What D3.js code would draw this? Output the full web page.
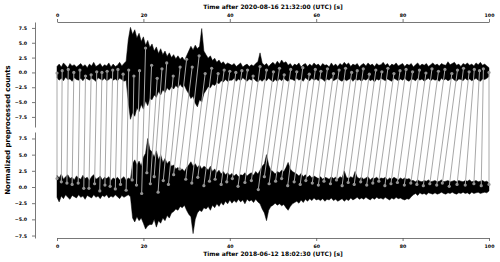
<!DOCTYPE html>
<html>
<head>
<meta charset="utf-8">
<script src="https://cdn.jsdelivr.net/npm/d3@7"></script>
<style>
body { margin: 0; background: #fff; }
text { font-family: "DejaVu Sans", sans-serif; font-weight: bold; }
</style>
</head>
<body>
<svg id="chart" width="500" height="262"></svg>
<script>
'use strict';

// max / min of each trace per half second (t = 0, 0.5, ... 100)
var topHi = [1.0, 1.4, 0.9, 1.6, 1.2, 0.8, 1.5, 1.1, 1.3, 0.9, 1.2, 1.5, 1.0, 1.3, 0.8, 1.4, 1.1, 1.7, 1.0, 1.2,
    1.5, 0.9, 1.3, 1.1, 1.6, 0.9, 1.4, 1.0, 1.2, 1.7, 1.1, 1.5, 1.9,
    5.5, 7.6, 6.4, 7.2, 5.8, 6.6, 5.2, 6.0, 4.6, 5.4, 4.2,
    4.8, 3.6, 4.3, 3.2, 4.0, 3.0, 3.6, 2.7, 3.3, 2.5, 3.0, 2.3, 2.8, 2.2, 2.6, 2.0, 2.8,
    3.6, 4.4, 3.8, 4.6, 4.0, 4.4, 7.4, 3.6,
    3.0, 2.4, 2.8, 2.0, 2.4, 1.7, 2.1, 1.5, 1.8, 1.3, 1.6, 1.4,
    1.2, 1.5, 1.0, 1.3, 1.6, 0.9, 1.2, 1.4, 1.0, 1.3,
    1.1, 1.5, 1.8, 3.3, 1.6, 1.2, 1.5, 1.0, 1.4, 1.7,
    1.3, 1.9, 1.4, 2.1, 1.6, 1.8, 1.2, 1.5, 1.0, 1.4,
    1.2, 1.6, 0.9, 1.3, 1.5, 1.0, 1.4, 1.1, 1.6, 1.2,
    1.4, 1.0, 1.5, 1.2, 1.3, 0.9, 1.6, 1.1, 1.4, 1.0,
    1.5, 1.2, 1.7, 1.3, 1.6, 1.0, 1.4, 1.2, 1.5, 0.9,
    1.3, 1.5, 1.1, 1.6, 1.2, 1.4, 1.0, 1.5, 1.2, 1.3,
    1.7, 1.2, 1.5, 1.0, 1.4, 1.2, 1.6, 1.1, 1.3, 1.5,
    1.0, 1.4, 1.2, 1.5, 0.9, 1.3, 1.6, 1.1, 1.4, 1.2,
    1.5, 1.0, 1.3, 1.6, 1.2, 1.4, 1.1, 1.5, 1.3, 1.2,
    1.8, 1.3, 1.5, 1.7, 1.2, 1.4, 1.0, 1.5, 1.3, 1.6,
    1.2, 1.4, 1.1, 1.6, 1.3, 1.7, 1.2, 1.4, 1.1, 0.8];
var topLo = [-0.9, -1.3, -1.0, -1.4, -0.8, -1.2, -1.1, -1.5, -0.9, -1.2, -1.3, -1.0, -1.4, -0.9, -1.1, -1.3, -1.0, -1.2, -1.5, -0.9,
    -1.1, -1.3, -1.0, -1.4, -1.2, -0.9, -1.3, -1.1, -1.4, -1.0, -1.2, -1.5, -1.3,
    -5.0, -7.9, -6.8, -7.4, -6.0, -6.6, -5.4, -6.2, -4.8, -5.6, -4.4,
    -4.6, -3.8, -4.2, -3.2, -3.8, -2.9, -3.4, -2.6, -3.0, -2.4, -2.8, -2.2, -2.6, -2.0, -2.5, -2.2, -3.0,
    -3.6, -4.4, -4.0, -5.2, -5.8, -4.6, -5.0, -3.6,
    -3.0, -2.4, -2.6, -2.0, -2.2, -1.7, -1.9, -1.4, -1.6, -1.2, -1.5, -1.3,
    -1.3, -1.0, -1.5, -1.1, -1.4, -0.9, -1.2, -1.5, -1.1, -1.3,
    -1.0, -1.4, -1.6, -1.2, -1.5, -1.1, -1.4, -1.0, -1.3, -1.6,
    -1.2, -1.5, -1.1, -1.4, -1.0, -1.3, -1.5, -1.1, -1.2, -1.4,
    -1.0, -1.3, -1.1, -1.5, -0.9, -1.2, -1.4, -1.0, -1.3, -1.1,
    -1.4, -1.0, -1.2, -1.5, -1.1, -1.3, -0.9, -1.4, -1.2, -1.0,
    -1.3, -1.5, -1.1, -1.4, -1.2, -1.0, -1.5, -1.1, -1.3, -1.2,
    -1.5, -1.1, -1.3, -1.0, -1.4, -1.2, -1.6, -1.1, -1.3, -1.0,
    -1.2, -1.4, -1.1, -1.3, -1.5, -1.0, -1.2, -1.4, -1.1, -1.3,
    -1.0, -1.3, -1.5, -1.1, -1.2, -1.4, -1.0, -1.3, -1.1, -1.5,
    -1.2, -1.0, -1.4, -1.1, -1.3, -1.2, -1.5, -1.0, -1.3, -1.1,
    -1.4, -1.2, -1.0, -1.3, -1.5, -1.1, -1.2, -1.4, -1.0, -1.3,
    -1.1, -1.4, -1.2, -1.0, -1.3, -1.5, -1.1, -1.2, -1.0, -0.7];
var botHi = [1.8, 1.4, 2.0, 1.2, 1.6, 1.9, 1.3, 1.5, 1.1, 1.7, 1.4, 1.2, 1.8, 1.3, 1.5, 1.0, 1.6, 1.9, 1.2, 1.4,
    1.7, 1.1, 1.5, 1.3, 1.6, 1.0, 1.4, 1.2, 1.5, 1.1, 1.3, 1.6, 1.0, 1.4, 1.2,
    3.6, 4.2, 3.4, 4.0, 3.2, 4.6, 5.2, 7.5, 5.8,
    5.4, 4.6, 5.6, 4.2, 5.0, 3.8, 4.4, 3.6, 4.0, 3.2, 3.4, 2.8, 3.0, 2.6, 2.8, 2.4, 3.0,
    3.4, 3.9, 3.2, 3.6, 3.0, 3.4, 2.8, 3.2,
    3.0, 2.6, 3.2, 2.4, 2.8, 2.2, 2.6, 2.0, 2.4, 1.9, 2.2, 1.8, 2.1, 1.7, 2.0, 1.6, 1.9, 1.8, 2.2, 1.7, 2.0,
    2.2, 1.8, 2.4, 2.0, 2.6, 3.2, 3.6, 5.0, 3.4, 2.6, 2.4, 2.0, 2.4, 2.2, 2.6, 2.4, 3.0, 3.8, 2.8, 2.4, 2.2,
    2.0, 1.7, 2.1, 1.6, 1.9, 1.5, 1.8, 1.4, 1.7, 1.5,
    1.3, 1.6, 1.2, 1.5, 1.4, 1.2, 1.6, 1.3, 1.5, 1.2,
    1.6, 1.4, 2.5, 1.5, 1.3, 1.6, 1.4, 2.4, 1.5, 1.3,
    1.5, 1.2, 1.4, 1.6, 1.1, 1.4, 1.3, 1.5, 1.2, 1.4,
    1.3, 1.5, 1.1, 1.4, 1.2, 1.5, 1.3, 1.1, 1.4, 1.2,
    1.4, 1.2, 1.3, 1.0,
    1.0, 0.8, 1.1, 0.9, 0.8, 1.0, 0.9, 1.1, 0.8, 0.9,
    1.0, 0.8, 0.9, 1.1, 0.8, 0.9, 1.0, 0.8, 0.9, 1.0,
    0.8, 1.0, 0.9, 0.8, 1.0, 0.9, 1.1, 0.8, 0.9, 1.0,
    0.8, 0.9, 1.0, 0.8, 0.9, 0.6];
var botLo = [-1.6, -2.3, -1.4, -1.8, -1.2, -1.6, -1.9, -1.3, -1.5, -1.7, -1.2, -1.6, -1.4, -1.9, -1.3, -1.5, -1.7, -1.2, -1.6, -1.4,
    -1.8, -1.3, -1.5, -1.2, -1.7, -1.4, -1.6, -1.2, -1.5, -1.8, -1.3, -1.6, -1.4, -1.2, -1.5,
    -4.8, -5.4, -4.6, -5.2, -4.8, -5.6, -6.5, -6.0, -5.8,
    -5.8, -5.0, -6.2, -5.2, -5.6, -4.8, -5.2, -4.4, -4.8, -4.0, -3.8, -3.4, -3.6, -3.0, -3.2, -2.8, -3.6,
    -4.2, -4.6, -7.2, -5.0, -4.0, -3.6, -3.8, -3.2,
    -3.4, -3.0, -3.6, -2.8, -3.2, -2.6, -3.0, -2.4, -2.8, -2.2, -2.6, -2.0, -2.5, -2.1, -2.4, -1.9, -2.3, -2.0, -2.6, -1.9, -2.2,
    -2.0, -2.4, -1.9, -2.3, -2.6, -3.4, -4.0, -5.2, -3.6, -3.0, -2.8, -2.5, -2.8, -2.6, -2.9, -2.7, -3.2, -3.6, -3.0, -2.6, -2.4,
    -2.2, -2.5, -2.0, -2.4, -1.9, -2.2, -1.8, -2.1, -1.7, -2.0,
    -1.9, -2.1, -1.8, -2.2, -1.9, -2.0, -1.7, -2.1, -1.9, -2.2,
    -2.0, -1.8, -2.2, -1.9, -2.1, -1.7, -2.0, -1.8, -1.6, -1.9,
    -1.7, -1.9, -1.6, -1.8, -2.0, -1.7, -1.9, -1.6, -1.8, -1.7,
    -1.9, -1.6, -1.8, -2.0, -1.7, -1.9, -1.6, -1.8, -1.7, -1.9,
    -2.0, -1.8, -1.9, -1.5,
    -1.2, -1.0, -1.3, -0.9, -1.1, -1.0, -1.2, -0.9, -1.0, -1.1,
    -0.9, -1.1, -1.0, -0.8, -1.0, -1.1, -0.9, -1.0, -0.8, -1.0,
    -1.1, -0.9, -1.0, -0.8, -1.0, -0.9, -1.1, -0.8, -1.0, -0.9,
    -0.8, -1.0, -0.9, -0.8, -0.9, -0.6];

// warping links: time and value at each end
var linkTopT = [0, 1.2, 2.6, 3.9, 5.3, 6.6, 7.9, 9.2, 10.4, 11.6, 12.9, 14.1, 15.3, 16.6, 17.8, 19.1, 20.5, 21.9, 23.2, 24.3,
    25.4, 26.9, 28.5, 30.0, 31.3, 32.9, 34.3, 35.8, 37.3, 38.7, 40.0, 41.4, 42.8, 44.1, 45.4, 47.0, 48.5, 50.1, 51.5, 52.6,
    54.1, 55.5, 56.9, 58.4, 59.8, 61.1, 62.6, 64.0, 65.3, 66.8, 68.2, 69.5, 70.9, 72.3, 73.8, 75.2, 76.6, 78.0, 79.4, 80.8,
    82.3, 83.9, 85.4, 86.8, 88.3, 89.8, 91.4, 92.7, 94.1, 95.4, 96.6, 97.8, 98.7, 100];
var linkTopV = [-0.1, 0.3, 0.5, 0.0, 0.4, -0.6, -0.4, 0.1, 0.0, 0.2, 0.4, 0.5, -0.3, 0.4, -0.6, 0.3, 4.1, 1.2, -1.0, 0.6,
    1.6, -0.6, 0.9, 2.2, 0.9, 2.8, -0.2, 0.7, -0.2, 0.4, 0.2, 0.0, 0.3, 0.4, -0.6, 1.0, 0.4, 0.1, 0.7, -0.4,
    0.5, 0.1, 0.8, -0.3, 0.5, 0.2, 0.6, -0.2, 0.4, 0.7, 0.0, 0.3, 0.6, -0.3, 0.4, 0.1, 0.7, -0.2, 0.3, 0.5,
    0.1, 0.4, -0.1, 0.6, 0.2, 0.5, -0.2, 0.4, 0.7, 0.1, 0.5, 0.3, 0.6, 0.0];
var linkBotT = [0, 1.0, 2.3, 3.5, 4.9, 6.2, 7.4, 8.7, 9.9, 11.1, 12.3, 13.5, 14.7, 16.0, 17.4, 18.4, 19.6, 20.8, 21.6, 22.5,
    23.4, 24.6, 25.8, 27.0, 28.4, 29.8, 31.2, 32.6, 34.0, 35.3, 36.6, 38.0, 39.3, 40.6, 41.9, 43.5, 45.0, 46.6, 48.0, 49.1,
    50.6, 52.0, 53.4, 54.9, 56.3, 57.6, 59.1, 60.5, 61.8, 63.3, 64.7, 66.0, 67.4, 68.8, 70.3, 71.7, 73.1, 74.5, 75.9, 77.3,
    78.8, 80.4, 81.9, 83.3, 84.8, 86.3, 87.9, 89.2, 90.8, 92.6, 94.5, 96.5, 98.2, 100];
var linkBotV = [1.3, 0.8, 0.6, 0.4, 0.6, -0.2, -0.2, 0.5, -0.6, 0.3, 0.1, -0.3, 0.4, -0.5, 1.1, 0.3, -1.0, 2.2, 0.5, 1.6,
    -0.8, 1.0, 0.4, 1.9, 2.8, 1.2, 0.6, 1.5, 0.2, 0.9, 1.2, 0.4, 0.8, 1.3, 0.1, 0.7, 1.0, -0.4, 1.6, 0.5,
    0.9, 1.3, 0.2, 0.8, 0.4, 1.0, 0.6, 0.3, 0.9, 0.5, 1.1, 0.2, 0.7, 0.4, 0.8, 0.3, 0.6, 0.9, 0.2, 0.5,
    0.7, 0.3, 0.6, 0.4, 0.2, 0.5, 0.3, 0.6, 0.1, 0.4, 0.3, 0.5, 0.2, 0.4];

var xTicks = [0, 20, 40, 60, 80, 100];
var yTicks = [-7.5, -5.0, -2.5, 0.0, 2.5, 5.0, 7.5];
var topTitle = 'Time after 2020-08-16 21:32:00 (UTC) [s]';
var botTitle = 'Time after 2018-06-12 18:02:30 (UTC) [s]';
var yTitle = 'Normalized preprocessed counts';

var svg = d3.select('#chart');
var x = d3.scaleLinear().domain([0, 100]).range([57, 489]);
var yTop = d3.scaleLinear().domain([-9.2, 8.5]).range([127, 22]);
var yBot = d3.scaleLinear().domain([-7.88, 8.5]).range([238, 132]);

// dense waveform drawn as the band between its max and min per half second
function drawTrace(hi, lo, y) {
    var area = d3.area()
        .x(function(v, k) { return x(k / 2); })
        .y0(function(v, k) { return y(lo[k]); })
        .y1(function(v) { return y(v); });
    svg.append('path')
        .attr('d', area(hi))
        .attr('fill', '#000')
        .attr('stroke', '#000')
        .attr('stroke-width', 0.5)
        .attr('stroke-linejoin', 'miter');
}
drawTrace(topHi, topLo, yTop);
drawTrace(botHi, botLo, yBot);

// links between the two traces
var links = linkTopT.map(function(t, i) {
    return { x1: x(t), y1: yTop(linkTopV[i]), x2: x(linkBotT[i]), y2: yBot(linkBotV[i]) };
});
var g = svg.append('g');
g.selectAll('line').data(links).enter().append('line')
    .attr('x1', function(d) { return d.x1; })
    .attr('y1', function(d) { return d.y1; })
    .attr('x2', function(d) { return d.x2; })
    .attr('y2', function(d) { return d.y2; })
    .attr('stroke', '#a8a8a8')
    .attr('stroke-width', 1);
g.selectAll('circle.t').data(links).enter().append('circle')
    .attr('cx', function(d) { return d.x1; })
    .attr('cy', function(d) { return d.y1; })
    .attr('r', 1.6)
    .attr('fill', '#959595');
g.selectAll('circle.b').data(links).enter().append('circle')
    .attr('cx', function(d) { return d.x2; })
    .attr('cy', function(d) { return d.y2; })
    .attr('r', 1.6)
    .attr('fill', '#959595');

// axes
var fmt = d3.format('.1f');
function styleAxis(sel) {
    sel.selectAll('path, line').attr('stroke', '#555').attr('stroke-width', 0.8);
    sel.selectAll('text').attr('fill', '#000').style('font-size', '4.7px').style('font-family', 'DejaVu Sans').style('font-weight', 'bold');
}
svg.append('g').attr('transform', 'translate(0,22)')
    .call(d3.axisTop(x).tickValues(xTicks).tickSize(3).tickSizeOuter(0).tickPadding(2.3))
    .call(styleAxis);
svg.append('g').attr('transform', 'translate(0,238)')
    .call(d3.axisBottom(x).tickValues(xTicks).tickSize(3).tickSizeOuter(0).tickPadding(3.4))
    .call(styleAxis);
svg.append('g').attr('transform', 'translate(35,0)')
    .call(d3.axisLeft(yTop).tickValues(yTicks).tickFormat(fmt).tickSize(3).tickSizeOuter(0).tickPadding(5))
    .call(styleAxis);
svg.append('g').attr('transform', 'translate(35,0)')
    .call(d3.axisLeft(yBot).tickValues(yTicks).tickFormat(fmt).tickSize(3).tickSizeOuter(0).tickPadding(5))
    .call(styleAxis);

svg.append('text').attr('x', 273).attr('y', 8.6).attr('text-anchor', 'middle')
    .style('font-size', '6px').text(topTitle);
svg.append('text').attr('x', 273).attr('y', 255.6).attr('text-anchor', 'middle')
    .style('font-size', '6px').text(botTitle);
svg.append('text').attr('transform', 'translate(8,130) rotate(-90)')
    .attr('text-anchor', 'middle').attr('dominant-baseline', 'central')
    .style('font-size', '7px').text(yTitle);
</script>
</body>
</html>
